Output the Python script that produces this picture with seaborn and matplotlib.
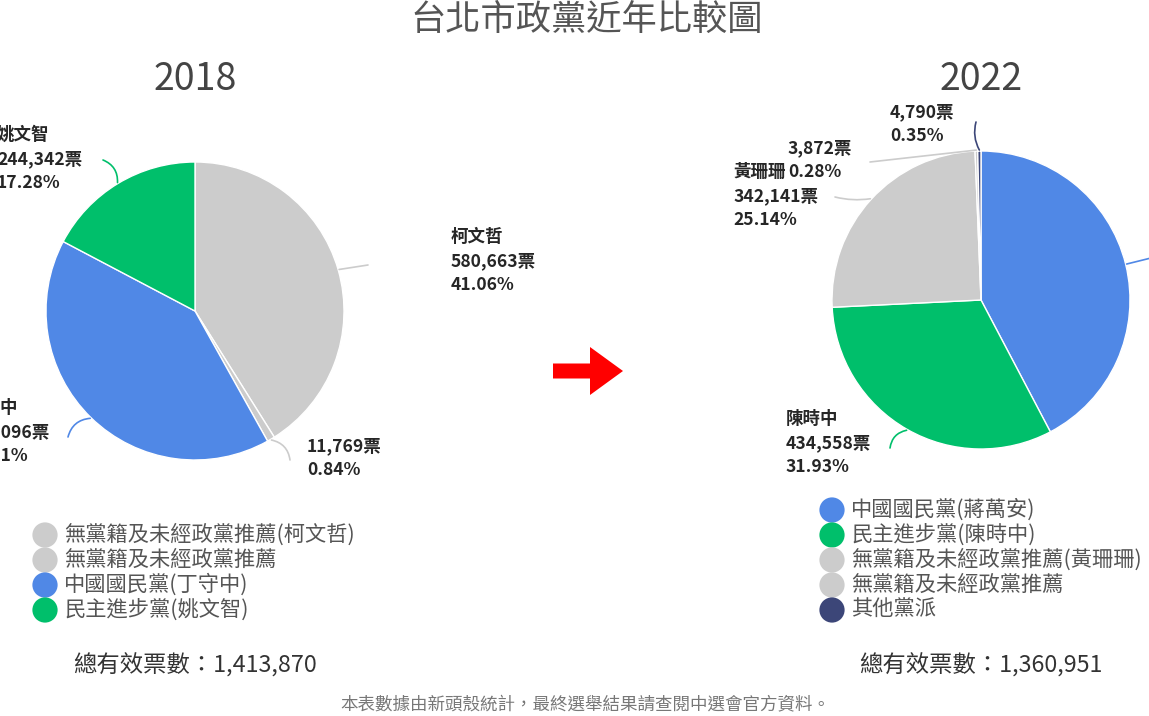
import matplotlib
matplotlib.use("Agg")
import matplotlib.pyplot as plt
import matplotlib.patches as mpatches
import seaborn as sns
import numpy as np

# ---------------- data ----------------
title = "台北市政黨近年比較圖"
years = ["2018", "2022"]

names18 = ["柯文哲", "", "丁守中", "姚文智"]
votes18 = [580663, 11769, 577096, 244342]
pct18 = ["41.06%", "0.84%", "40.81%", "17.28%"]
legend18 = ["無黨籍及未經政黨推薦(柯文哲)", "無黨籍及未經政黨推薦", "中國國民黨(丁守中)", "民主進步黨(姚文智)"]
total18 = "1,413,870"

names22 = ["蔣萬安", "陳時中", "黃珊珊", "", ""]
votes22 = [575590, 434558, 342141, 3872, 4790]
pct22 = ["42.29%", "31.93%", "25.14%", "0.28%", "0.35%"]
legend22 = ["中國國民黨(蔣萬安)", "民主進步黨(陳時中)", "無黨籍及未經政黨推薦(黃珊珊)", "無黨籍及未經政黨推薦", "其他黨派"]
total22 = "1,360,951"

total_label = "總有效票數："
note = "本表數據由新頭殼統計，最終選舉結果請查閱中選會官方資料。"

# ---------------- style ----------------
BLUE, GREEN, GREY, NAVY = "#5088e6", "#00bf6b", "#cccccc", "#3c4678"
colors18 = [GREY, GREY, BLUE, GREEN]
colors22 = [BLUE, GREEN, GREY, GREY, NAVY]

sns.set_theme(style="white")
plt.rcParams["font.family"] = ["Noto Sans CJK TC", "DejaVu Sans"]

W, H = 1149, 716
fig = plt.figure(figsize=(W / 100, H / 100), dpi=100)
ax = fig.add_axes([0, 0, 1, 1])


def Y(y):
    return H - y


pies = [
    dict(votes=votes18, colors=colors18, names=names18, pct=pct18, cx=195, cy=311,
         lead=[((368, 265), 0.0), ((290, 460), 0.35), ((68, 437), -0.35), ((103, 160), -0.35)],
         lab=[(451, 237), (307, 446), (-35, 408), (-3, 135)],
         legend=legend18, leg_x=45, leg_y=535, total=total18, year=years[0]),
    dict(votes=votes22, colors=colors22, names=names22, pct=pct22, cx=981, cy=300,
         lead=[((1155, 257), 0.0), ((890, 448), -0.35), ((835, 197), 0.1), ((870, 162), 0.0), ((976, 122), 0.2)],
         lab=[(1160, 240), (786, 419), (733, 172), (788, 148), (890, 112)],
         legend=legend22, leg_x=832, leg_y=510, total=total22, year=years[1]),
]
R = 149

for p in pies:
    wedges, _ = ax.pie(p["votes"], colors=p["colors"], startangle=90, counterclock=False,
                       center=(p["cx"], Y(p["cy"])), radius=R,
                       wedgeprops=dict(edgecolor="white", linewidth=1))
    for i, w in enumerate(wedges):
        th = np.deg2rad((w.theta1 + w.theta2) / 2)
        sx = p["cx"] + (R + 1) * np.cos(th)
        sy = Y(p["cy"]) + (R + 1) * np.sin(th)
        (ex, ey), rad = p["lead"][i]
        ax.annotate("", xy=(sx, sy), xytext=(ex, Y(ey)),
                    arrowprops=dict(arrowstyle="-", color=p["colors"][i], lw=1.2,
                                    connectionstyle=f"arc3,rad={rad}", shrinkA=0, shrinkB=0))
        lines = []
        if p["names"][i]:
            lines.append(p["names"][i])
        lines.append(f"{p['votes'][i]:,}票")
        lines.append(p["pct"][i])
        lx, ly = p["lab"][i]
        for k, t in enumerate(lines):
            ax.text(lx, Y(ly + 24 * k), t, ha="left", va="center", fontsize=12.6,
                    fontweight="bold", color="#262626")
    # legend
    for k, (lab, c) in enumerate(zip(p["legend"], p["colors"])):
        yy = Y(p["leg_y"] + 25 * k)
        ax.scatter([p["leg_x"]], [yy], s=330, color=c, edgecolor="none", zorder=3)
        ax.text(p["leg_x"] + 19, yy, lab, ha="left", va="center", fontsize=15.3, color="#555555")
    ax.text(p["cx"], Y(80), p["year"], ha="center", va="center", fontsize=27, color="#444444")
    ax.text(p["cx"], Y(665), total_label + p["total"], ha="center", va="center",
            fontsize=16.8, color="#333333", fontweight="medium")

ax.text(587, Y(20), title, ha="center", va="center", fontsize=25.4, color="#555555")
ax.text(585, Y(705), note, ha="center", va="center", fontsize=12.6, color="#777777")

ax.add_patch(mpatches.FancyArrow(553, Y(371), 70, 0, width=15, head_width=48, head_length=33,
                                 length_includes_head=True, color="#ff0000", lw=0))

ax.set_xlim(0, W)
ax.set_ylim(0, H)
ax.set_aspect("auto")
ax.axis("off")

fig.savefig("out.png", dpi=100)
